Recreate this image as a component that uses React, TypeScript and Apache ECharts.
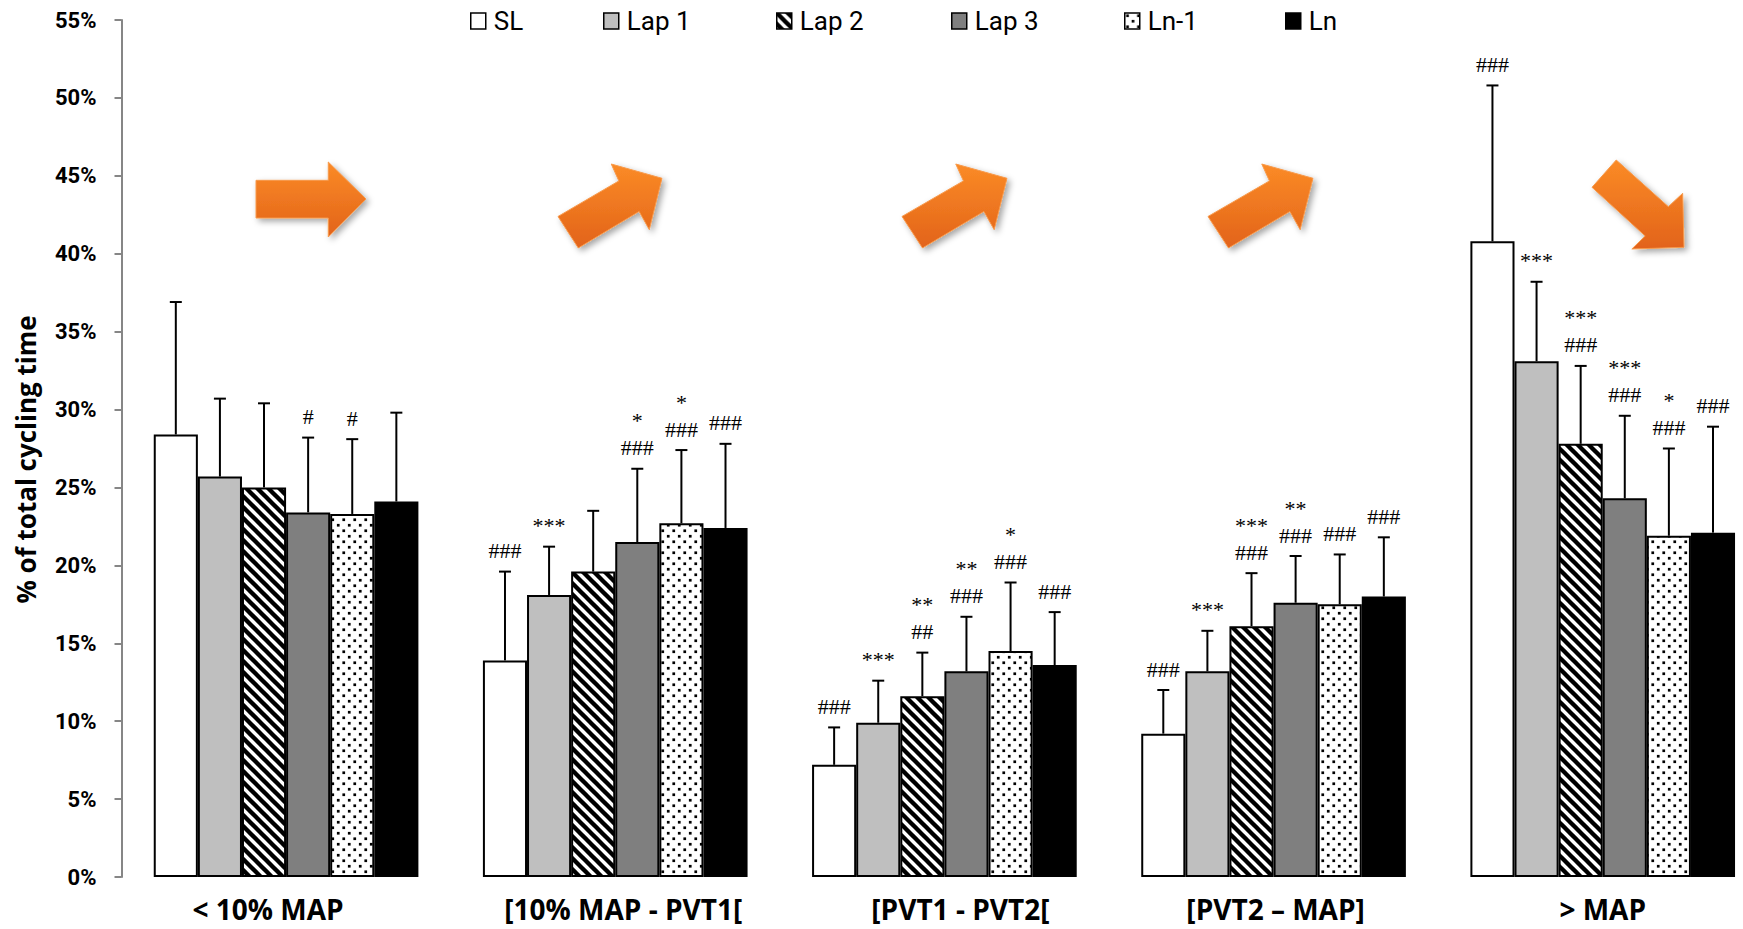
import React, { useEffect, useRef } from "react";
import * as echarts from "echarts";

// ---------- data ----------
const categories = ["< 10% MAP", "[10% MAP - PVT1[", "[PVT1 - PVT2[", "[PVT2 – MAP]", "> MAP"];
const seriesNames = ["SL", "Lap 1", "Lap 2", "Lap 3", "Ln-1", "Ln"];

const slMean = [28.4, 13.9, 7.2, 9.2, 40.8];
const lap1Mean = [25.7, 18.1, 9.9, 13.2, 33.1];
const lap2Mean = [25.0, 19.6, 11.6, 16.1, 27.8];
const lap3Mean = [23.4, 21.5, 13.2, 17.6, 24.3];
const lnm1Mean = [23.3, 22.7, 14.5, 17.5, 21.9];
const lnMean = [24.1, 22.4, 13.6, 18.0, 22.1];

const slSd = [8.5, 5.7, 2.4, 2.8, 10.0];
const lap1Sd = [5.0, 3.1, 2.7, 2.6, 5.1];
const lap2Sd = [5.4, 3.9, 2.8, 3.4, 5.0];
const lap3Sd = [4.8, 4.7, 3.5, 3.0, 5.3];
const lnm1Sd = [4.8, 4.7, 4.4, 3.2, 5.6];
const lnSd = [5.7, 5.4, 3.4, 3.8, 6.8];

// significance marks: [upper line, lower line]
const slMarks = [["", ""], ["", "###"], ["", "###"], ["", "###"], ["", "###"]];
const lap1Marks = [["", ""], ["", "***"], ["", "***"], ["", "***"], ["", "***"]];
const lap2Marks = [["", ""], ["", ""], ["**", "##"], ["***", "###"], ["***", "###"]];
const lap3Marks = [["", "#"], ["*", "###"], ["**", "###"], ["**", "###"], ["***", "###"]];
const lnm1Marks = [["", "#"], ["*", "###"], ["*", "###"], ["", "###"], ["*", "###"]];
const lnMarks = [["", ""], ["", "###"], ["", "###"], ["", "###"], ["", "###"]];

const yMin = 0;
const yMax = 55;
const yInterval = 5;

const means = [slMean, lap1Mean, lap2Mean, lap3Mean, lnm1Mean, lnMean];
const sds = [slSd, lap1Sd, lap2Sd, lap3Sd, lnm1Sd, lnSd];
const marks = [slMarks, lap1Marks, lap2Marks, lap3Marks, lnm1Marks, lnMarks];

// ---------- styling helpers ----------
const GAP = 0.196;
// horizontal nudge of each category label (px), as in the original figure
const labelShift = [-18, 8, 16, 2, 0];
// legend item x positions (px)
const legendX = [470, 603, 776, 951, 1124, 1285];

function makeStripes() {
  const s = 11;
  const c = document.createElement("canvas");
  c.width = s;
  c.height = s;
  const g = c.getContext("2d")!;
  g.fillStyle = "#fff";
  g.fillRect(0, 0, s, s);
  g.strokeStyle = "#000";
  g.lineWidth = 4.4;
  for (const k of [-1, 0, 1]) {
    g.beginPath();
    g.moveTo(k * s - 2, -2);
    g.lineTo(k * s + s + 2, s + 2);
    g.stroke();
  }
  return c;
}

function makeDots() {
  const s = 11;
  const c = document.createElement("canvas");
  c.width = s;
  c.height = s;
  const g = c.getContext("2d")!;
  g.fillStyle = "#fff";
  g.fillRect(0, 0, s, s);
  g.fillStyle = "#000";
  g.fillRect(1.4, 1.4, 2.7, 2.7);
  g.fillRect(6.9, 6.9, 2.7, 2.7);
  return c;
}

const arrowShapes: Record<string, number[][]> = {
  right: [[0, 0.244], [0.657, 0.244], [0.657, 0], [1, 0.493], [0.657, 1], [0.657, 0.747], [0, 0.747]],
  upRight: [[0, 0.6245], [0.585, 0.2016], [0.512, 0], [1, 0.17], [0.878, 0.7826], [0.78, 0.565], [0.195, 1]],
  downRight: [[0.2635, 0], [0.83, 0.524], [0.9856, 0.3745], [1, 0.981], [0.433, 1], [0.578, 0.854], [0, 0.307]],
};

const arrowBoxes = [
  { kind: "right", x0: 256, y0: 162, x1: 366, y1: 237 },
  { kind: "upRight", x0: 558, y0: 164, x1: 662, y1: 248 },
  { kind: "upRight", x0: 902, y0: 164, x1: 1007, y1: 248 },
  { kind: "upRight", x0: 1208, y0: 164, x1: 1313, y1: 248 },
  { kind: "downRight", x0: 1592, y0: 160, x1: 1684, y1: 249 },
];

export default function App() {
  const ref = useRef<HTMLDivElement>(null);

  useEffect(() => {
    if (!ref.current) return;
    const chart = echarts.init(ref.current, null, { renderer: "svg" });

    const stripes = makeStripes();
    const dots = makeDots();
    const fills: any[] = [
      "#ffffff",
      "#bfbfbf",
      { image: stripes, repeat: "repeat", imageWidth: 11, imageHeight: 11 },
      "#7f7f7f",
      { image: dots, repeat: "repeat", imageWidth: 11, imageHeight: 11 },
      "#000000",
    ];

    const barSeries = seriesNames.map((name, si) => ({
      type: "bar",
      name,
      data: means[si],
      barGap: "0%",
      barCategoryGap: (GAP * 100).toFixed(1) + "%",
      itemStyle: { color: fills[si], borderColor: "#000", borderWidth: 2 },
      emphasis: { disabled: true },
      z: 2,
    }));

    const errSeries = seriesNames.map((name, si) => ({
      type: "custom",
      name: name + " SD",
      silent: true,
      z: 3,
      encode: { x: 0, y: [1, 2] },
      data: categories.map((_, ci) => [ci, means[si][ci], means[si][ci] + sds[si][ci]]),
      renderItem: (params: any, api: any) => {
        const ci = api.value(0);
        const mean = api.value(1);
        const top = api.value(2);
        const base = api.coord([ci, mean]);
        const tp = api.coord([ci, top]);
        const bandW = api.size([1, 0])[0];
        const groupW = bandW * (1 - GAP);
        const bw = groupW / 6;
        const x = base[0] - groupW / 2 + (si + 0.5) * bw;
        const children: any[] = [
          { type: "line", shape: { x1: x, y1: base[1], x2: x, y2: tp[1] }, style: { stroke: "#000", lineWidth: 2 } },
          { type: "line", shape: { x1: x - 6, y1: tp[1], x2: x + 6, y2: tp[1] }, style: { stroke: "#000", lineWidth: 2 } },
        ];
        const [upper, lower] = marks[si][ci];
        const font = "22px 'Liberation Serif', 'Times New Roman', serif";
        if (lower) {
          children.push({
            type: "text",
            style: { text: lower, x, y: tp[1] - 21, align: "center", verticalAlign: "middle", font, fill: "#000" },
          });
        }
        if (upper) {
          children.push({
            type: "text",
            style: { text: upper, x, y: tp[1] - 48, align: "center", verticalAlign: "middle", font, fill: "#000" },
          });
        }
        return { type: "group", children };
      },
    }));

    const graphics = arrowBoxes.map((a) => {
      const w = a.x1 - a.x0;
      const h = a.y1 - a.y0;
      const pts = arrowShapes[a.kind].map(([u, v]) => [a.x0 + u * w, a.y0 + v * h]);
      return {
        type: "polygon",
        silent: true,
        z: 10,
        shape: { points: pts },
        style: {
          fill: new echarts.graphic.LinearGradient(0, 0, 0, 1, [
            { offset: 0, color: "#fb8b26" },
            { offset: 1, color: "#e2631a" },
          ]),
          stroke: "#f79a4c",
          lineWidth: 1,
          shadowBlur: 6,
          shadowOffsetX: 3,
          shadowOffsetY: 3,
          shadowColor: "rgba(0,0,0,0.35)",
        },
      };
    });

    const rich: any = {};
    labelShift.forEach((s, i) => {
      rich["c" + i] = {
        color: "#000",
        fontFamily: "'Open Sans'",
        fontWeight: "bold",
        fontSize: 28,
        padding: s >= 0 ? [0, 0, 0, 2 * s] : [0, -2 * s, 0, 0],
      };
    });

    const legends = seriesNames.map((n, i) => ({
      data: [n],
      left: legendX[i],
      top: 8,
      padding: 0,
      icon: "rect",
      itemWidth: 15,
      itemHeight: 16,
      selectedMode: false,
      itemStyle: { borderColor: "#000", borderWidth: 1.5 },
      textStyle: { fontFamily: "Roboto", fontSize: 26, color: "#000", padding: [0, 0, 0, 3] },
    }));

    chart.setOption({
      animation: false,
      backgroundColor: "#ffffff",
      grid: {
        left: 121.5,
        top: 20,
        width: 1645.8,
        bottom: 52,
        containLabel: false,
        outerBoundsMode: "none",
      },
      legend: legends,
      xAxis: {
        type: "category",
        data: categories,
        axisLine: { show: false },
        axisTick: { show: false },
        axisLabel: {
          interval: 0,
          margin: 18,
          formatter: (v: string, i: number) => "{c" + i + "|" + v + "}",
          rich,
        },
      },
      yAxis: {
        type: "value",
        min: yMin,
        max: yMax,
        interval: yInterval,
        name: "% of total cycling time",
        nameLocation: "middle",
        nameGap: 83,
        nameRotate: 90,
        nameTextStyle: {
          fontFamily: "'Open Sans'",
          fontWeight: "bold",
          fontSize: 26,
          color: "#000",
          padding: [0, 22, 0, 0],
        },
        axisLine: { show: true, lineStyle: { color: "#868686", width: 2 } },
        axisTick: { show: true, length: 7, lineStyle: { color: "#868686", width: 2 } },
        splitLine: { show: false },
        axisLabel: {
          formatter: "{value}%",
          color: "#000",
          fontFamily: "Roboto",
          fontWeight: "bold",
          fontSize: 22,
          margin: 25,
        },
      },
      series: [...barSeries, ...errSeries],
      graphic: graphics,
    });

    return () => chart.dispose();
  }, []);

  return (
    <div
      ref={ref}
      style={{ position: "absolute", left: 0, top: 0, width: 1743, height: 929, background: "#fff" }}
    />
  );
}
